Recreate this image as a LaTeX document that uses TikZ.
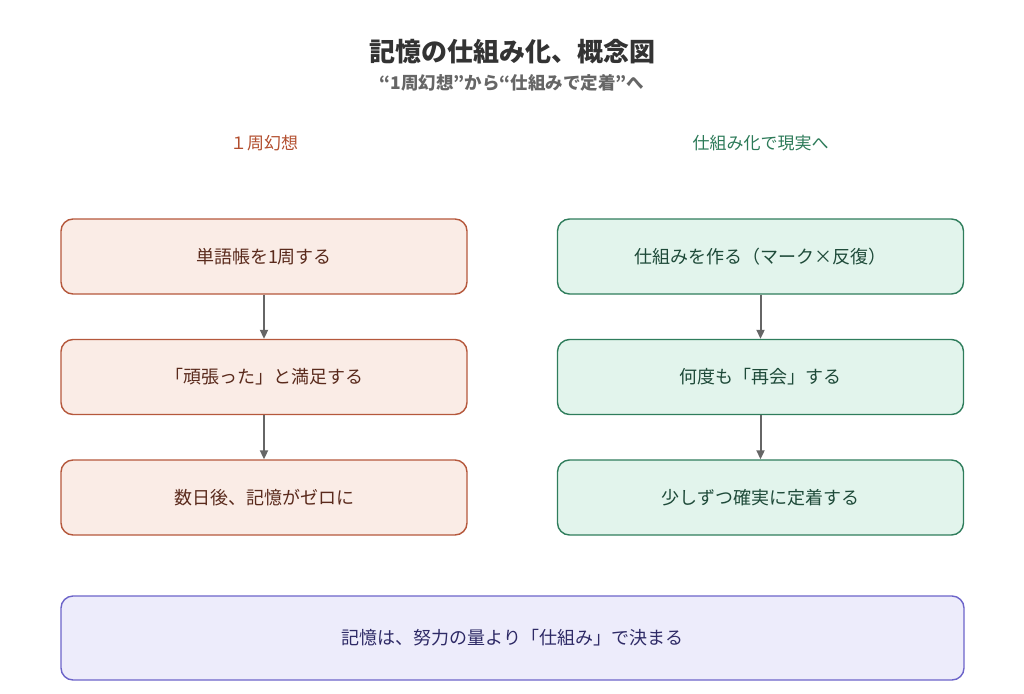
\documentclass[tikz,border=0pt]{standalone}
\usepackage{fontspec}
\setmainfont{Noto Sans CJK JP}
\usepackage{tikz}
\usetikzlibrary{arrows.meta}
\usetikzlibrary{positioning}

\definecolor{illfill}{HTML}{FAECE6}
\definecolor{illdraw}{HTML}{B5583C}
\definecolor{illtext}{HTML}{5A2A1C}
\definecolor{illhead}{HTML}{B24E2E}
\definecolor{sysfill}{HTML}{E2F4EC}
\definecolor{sysdraw}{HTML}{2F7D5C}
\definecolor{systext}{HTML}{1E4A39}
\definecolor{syshead}{HTML}{2C7A58}
\definecolor{keyfill}{HTML}{EDECFB}
\definecolor{keydraw}{HTML}{6C64C9}
\definecolor{keytext}{HTML}{2E2A66}
\definecolor{flowgray}{HTML}{666666}

\tikzset{
  stepbox/.style={rectangle, rounded corners=12pt, line width=1.4pt,
    minimum width=406pt, minimum height=75pt, font=\fontsize{18}{20}\selectfont},
  ill/.style={stepbox, draw=illdraw, fill=illfill, text=illtext},
  sys/.style={stepbox, draw=sysdraw, fill=sysfill, text=systext},
  flow/.style={draw=flowgray, line width=2pt, -{Triangle[length=9pt,width=8pt]}}
}

\begin{document}
\begin{tikzpicture}[x=1pt, y=-1pt]

\useasboundingbox (0,0) rectangle (1024,693);

% Title
\node at (512,52) (title) {\fontsize{26}{28}\selectfont\bfseries\color[HTML]{333333} 記憶の仕組み化、概念図};
\node at (512,83) (subtitle) {\fontsize{17.5}{19}\selectfont\bfseries\color[HTML]{666666} “1周幻想”から“仕組みで定着”へ};

% Column heads
\node at (264,143) (hl) {\fontsize{17}{19}\selectfont\color{illhead} １周幻想};
\node at (760.5,143) (hr) {\fontsize{17}{19}\selectfont\color{syshead} 仕組み化で現実へ};

% Left column
\node[ill] at (264,256.5) (l1) {単語帳を1周する};
\node[ill] at (264,377) (l2) {「頑張った」と満足する};
\node[ill] at (264,497.5) (l3) {数日後、記憶がゼロに};
\draw[flow] (l1) -- (l2);
\draw[flow] (l2) -- (l3);

% Right column
\node[sys] at (760.5,256.5) (r1) {仕組みを作る（マーク×反復）};
\node[sys] at (760.5,377) (r2) {何度も「再会」する};
\node[sys] at (760.5,497.5) (r3) {少しずつ確実に定着する};
\draw[flow] (r1) -- (r2);
\draw[flow] (r2) -- (r3);

% Conclusion
\node[stepbox, draw=keydraw, fill=keyfill, text=keytext, minimum width=903pt, minimum height=84pt] at (512.5,638) (key) {記憶は、努力の量より「仕組み」で決まる};

\end{tikzpicture}
\end{document}
